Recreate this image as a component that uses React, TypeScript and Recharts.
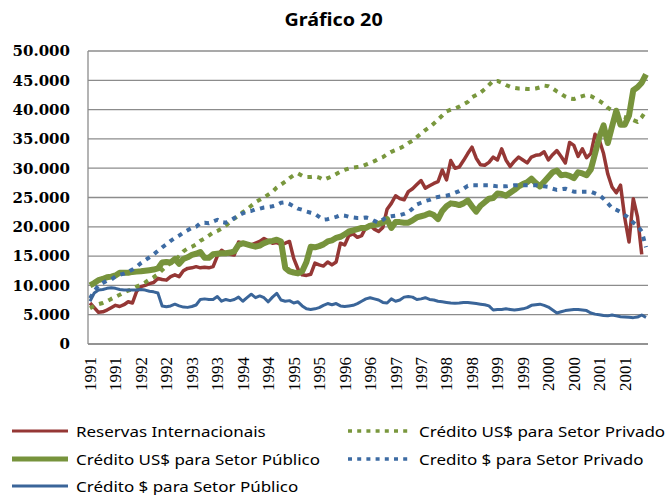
import { Fragment } from 'react'
import { LineChart, Line, XAxis, YAxis, CartesianGrid, Legend } from 'recharts'

// one label per month, axis shows every 6th
const years = ['1991', '1992', '1993', '1994', '1995', '1996', '1997', '1998', '1999', '2000', '2001']
const months = years.flatMap((y) => Array(12).fill(y) as string[])

const reservas = [
  7000, 6200, 5400, 5500, 5800, 6200, 6600, 6400, 6700, 7200, 7000, 9000,
  9800, 10000, 10300, 10500, 11200, 11000, 10900, 11500, 11800, 11500, 12500, 12900,
  13000, 13200, 13000, 13100, 13000, 13200, 15000, 16000, 15500, 15300, 15200, 17400,
  17200, 17000, 16900, 17200, 17500, 18000, 17600, 17200, 17300, 17000, 17200, 17500,
  14600, 12800, 11800, 11700, 11900, 13800, 13500, 13300, 14000, 13500, 14000, 17200,
  16900, 18500, 18800, 18200, 18500, 19900, 20300, 19600, 19200, 19900, 23000, 24000,
  25300, 24800, 24600, 26000, 26500, 27200, 27900, 26600, 27000, 27400, 27700, 29700,
  28000, 31300, 30000, 30200, 31300, 32500, 33600, 31700, 30600, 30500, 31000, 31900,
  31400, 33300, 31400, 30300, 31200, 31900, 31400, 30900, 31900, 32200, 32300, 32800,
  31400, 32300, 33000, 32000, 30900, 34400, 33900, 32000, 33300, 31800, 32500, 35800,
  34800, 32500, 29000, 26800, 25800, 27100, 21500, 17400, 24800, 21700, 15300, null,
]

const creditoUsdPrivado = [
  6100, 6500, 6800, 7000, 7300, 7700, 8050, 8400, 8800, 9100, 9400, 9800,
  10100, 10500, 11000, 11400, 11900, 12600, 13300, 13800, 14300, 15000, 15800, 16300,
  16600, 17000, 17600, 18000, 18500, 19000, 19300, 19700, 20200, 20800, 21400, 21900,
  22500, 23000, 23600, 24200, 24600, 25000, 25500, 26000, 26700, 27200, 27700, 28300,
  28800, 29100, 28700, 28500, 28500, 28600, 28400, 28000, 28300, 28600, 29000, 29400,
  29700, 29950, 30100, 30200, 30300, 30600, 30900, 31200, 31600, 31900, 32400, 32800,
  33100, 33400, 33800, 34300, 34700, 35300, 35900, 36500, 37000, 37600, 38300, 39000,
  39700, 40000, 40200, 40500, 40900, 41300, 42100, 42500, 42900, 43500, 44200, 44900,
  44900, 44600, 44200, 43900, 43700, 43600, 43600, 43500, 43500, 43600, 43800, 44100,
  44000, 43600, 43100, 42700, 42200, 41900, 41800, 42100, 42300, 42500, 42300, 41900,
  41500, 41000, 40300, 39900, 39500, 38900, 38700, 38500, 38200, 37900, 38700, 39800,
]

const creditoUsdPublico = [
  10000, 10400, 10900, 11100, 11400, 11500, 11700, 12150, 12150, 12150, 12300, 12350,
  12400, 12500, 12600, 12700, 12900, 13900, 14000, 13900, 14500, 13700, 14500, 14800,
  15200, 15400, 15700, 14700, 14700, 15300, 15400, 15500, 15500, 15600, 15800, 16900,
  17200, 17000, 16800, 16600, 16800, 17200, 17500, 17600, 17800, 17500, 13000, 12400,
  12200, 12050, 12400, 14000, 16600, 16500, 16700, 17000, 17500, 17700, 18100, 18300,
  18700, 19200, 19400, 19600, 19800, 19800, 20200, 20300, 20500, 20700, 21300, 19800,
  20800, 20800, 20700, 20700, 21100, 21600, 21800, 22000, 22300, 22000, 21300, 22700,
  23500, 24000, 23900, 23700, 24000, 24500, 23500, 22600, 23600, 24200, 24800, 24900,
  25700, 25600, 25300, 25800, 26300, 26900, 27300, 27600, 28200, 27500, 26900, 27700,
  28500, 29300, 29600, 28800, 28900, 28700, 28300, 29300, 29100, 28800, 29800, 32500,
  35300, 37300, 34300, 37100, 39800, 37400, 37400, 39000, 43300, 43800, 44600, 46000,
]

const creditoRealPrivado = [
  7800, 9000, 10000, 10400, 10800, 11000, 11500, 11800, 12000, 12300, 12700, 13200,
  13800, 14300, 14800, 15300, 15900, 16500, 17000, 17600, 18100, 18500, 19000, 19400,
  19800, 20000, 20600, 20700, 20600, 20900, 21200, 20800, 20700, 21100, 21500, 21900,
  22300, 22600, 22700, 23000, 23100, 23300, 23400, 23500, 23700, 24100, 24200, 23900,
  23500, 23100, 22900, 22600, 22400, 22200, 21700, 21200, 21300, 21500, 21700, 22000,
  21900, 21700, 21600, 21500, 21500, 21600, 21400, 21000, 20700, 21200, 21700, 21800,
  21900, 22000, 22200, 22500, 23100, 23800, 24100, 24400, 24600, 24900, 25100, 25200,
  25300, 25500, 25800, 26100, 26500, 27000, 27100, 27100, 27100, 27100, 27100, 27000,
  26900, 26900, 26900, 27000, 27100, 27100, 27100, 27100, 27100, 27100, 27000, 26900,
  26800, 26500, 26300, 26400, 26500, 26200, 26000, 26000, 26000, 26000, 26000, 25700,
  25400, 24800, 24000, 23200, 22900, 22500, 22000, 21500, 20700, 20200, 19200, 16500,
]

const creditoRealPublico = [
  7300, 8700, 9200, 9300, 9500, 9600, 9500, 9300, 9200, 9200, 9200, 9200,
  9300, 9200, 9000, 8900, 8700, 6500, 6350, 6500, 6800, 6500, 6300, 6250,
  6400, 6650, 7600, 7700, 7600, 7600, 8100, 7300, 7600, 7400, 7600, 8000,
  7300, 7900, 8500, 7900, 8200, 7900, 7200, 8000, 8650, 7500, 7300, 7400,
  7000, 7200, 6500, 6000, 5900, 6000, 6200, 6600, 6900, 6700, 6900, 6500,
  6400, 6500, 6600, 6900, 7300, 7700, 7900, 7700, 7500, 7100, 7000, 7700,
  7300, 7500, 8000, 8100, 8000, 7600, 7700, 7900, 7600, 7500, 7300, 7200,
  7100, 7000, 6950, 7000, 7100, 7100, 7000, 6900, 6800, 6700, 6500, 5800,
  5900, 5900, 6000, 5900, 5800, 5900, 6000, 6200, 6600, 6700, 6800, 6600,
  6300, 5800, 5300, 5500, 5700, 5800, 5900, 5900, 5800, 5700, 5300, 5100,
  5000, 4850, 4800, 4950, 4800, 4650, 4600, 4550, 4500, 4600, 4950, 4550,
]

const yTicks = [0, 5000, 10000, 15000, 20000, 25000, 30000, 35000, 40000, 45000, 50000]

const data = months.map((mes, i) => ({
  mes,
  reservas: reservas[i],
  usdPrivado: creditoUsdPrivado[i],
  usdPublico: creditoUsdPublico[i],
  realPrivado: creditoRealPrivado[i],
  realPublico: creditoRealPublico[i],
}))

// Excel series order: later ones are drawn on top
const series = [
  { key: 'reservas', name: 'Reservas Internacionais', color: '#953735', width: 3.5 },
  { key: 'usdPrivado', name: 'Crédito US$ para Setor Privado', color: '#79973D', width: 4, dash: '4.5 5.5' },
  { key: 'usdPublico', name: 'Crédito US$ para Setor Público', color: '#77933C', width: 6 },
  { key: 'realPrivado', name: 'Credito $ para Setor Privado', color: '#3D6BA3', width: 4, dash: '4.5 5.5' },
  { key: 'realPublico', name: 'Crédito $ para Setor Público', color: '#3A6599', width: 3 },
]

const fmt = (v: number) => String(v).replace(/\B(?=(\d{3})+(?!\d))/g, '.')

const YearTick = ({ x, y, payload }: any) => (
  <g transform={`translate(${x},${y + 13}) rotate(-90)`}>
    <text x={0} y={0} dy="0.35em" textAnchor="end" fontFamily="'Liberation Serif', serif" fontSize={17} fill="#000">
      {payload.value}
    </text>
  </g>
)

const renderLegend = () => (
  <div style={{ position: 'relative', width: 667, height: 80 }}>
    {series.map((s, k) => {
      const row = Math.floor(k / 2)
      const col = k % 2
      const cy = 16 + row * 27.5
      const lineX = col ? 348 : 12
      const lineW = col ? 63 : 56
      const textX = col ? 419 : 76
      return (
        <Fragment key={s.key}>
          <svg style={{ position: 'absolute', left: lineX, top: cy - 4 }} width={lineW} height={8}>
            <line
              x1={0}
              y1={4}
              x2={lineW}
              y2={4}
              stroke={s.color}
              strokeWidth={s.dash ? 3.5 : s.width > 4 ? 5 : 3}
              strokeDasharray={s.dash ? '4 5.2' : undefined}
            />
          </svg>
          <span
            style={{
              position: 'absolute',
              left: textX,
              top: cy - 8,
              lineHeight: '16px',
              fontSize: 14.5,
              fontFamily: "'Noto Sans', sans-serif",
              color: '#000',
              whiteSpace: 'nowrap',
              transform: 'scaleX(1.17)',
              transformOrigin: 'left center',
            }}
          >
            {s.name}
          </span>
        </Fragment>
      )
    })}
  </div>
)

const App = () => {
  return (
    <div style={{ position: 'absolute', left: 0, top: 0, width: 667, height: 495, background: '#fff' }}>
      <div
        style={{
          position: 'absolute',
          left: 0,
          top: 8,
          width: 667,
          textAlign: 'center',
          fontFamily: "'Noto Sans', sans-serif",
          fontWeight: 'bold',
          fontSize: 17,
          lineHeight: '24px',
          color: '#000',
          transform: 'scaleX(1.16)',
          transformOrigin: '333px center',
        }}
      >
        Gráfico 20
      </div>
      <LineChart width={667} height={495} data={data} margin={{ top: 51, right: 19, bottom: 0, left: 0 }}>
        <CartesianGrid vertical={false} stroke="#8c8c8c" strokeWidth={1.3} />
        <XAxis
          dataKey="mes"
          interval={5}
          tick={<YearTick />}
          tickLine={false}
          tickSize={0}
          tickMargin={0}
          height={71}
          padding={{ left: 2, right: 2 }}
          axisLine={{ stroke: '#8c8c8c', strokeWidth: 1.3 }}
        />
        <YAxis
          domain={[0, 50000]}
          ticks={yTicks}
          width={88}
          tickLine={false}
          tickSize={0}
          tickMargin={18}
          tickFormatter={fmt}
          axisLine={{ stroke: '#8c8c8c', strokeWidth: 1.3 }}
          tick={{ fontFamily: "'DejaVu Serif', serif", fontWeight: 'bold', fontSize: 15, fill: '#000' }}
        />
        <Legend verticalAlign="bottom" height={80} content={renderLegend} />
        {series.map((s) => (
          <Line
            key={s.key}
            type="linear"
            dataKey={s.key}
            name={s.name}
            stroke={s.color}
            strokeWidth={s.width}
            strokeDasharray={s.dash}
            strokeLinejoin="round"
            dot={false}
            activeDot={false}
            isAnimationActive={false}
          />
        ))}
      </LineChart>
    </div>
  )
}

export default App
